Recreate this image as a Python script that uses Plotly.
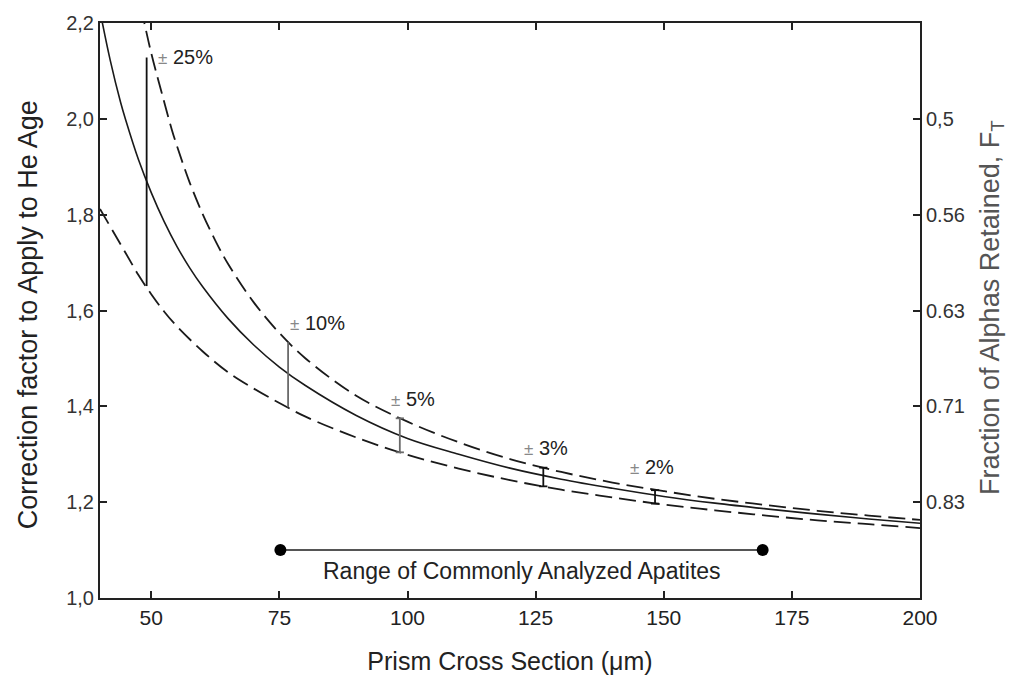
import plotly.graph_objects as go

# Prism cross section (µm) and the correction factor 1/FT, with its upper and lower bounds
x_mid = [40, 42, 44, 45, 47.5, 50, 52.5, 55, 57.5, 60, 65, 70, 75, 80, 90, 100,
         110, 120, 130, 140, 150, 160, 170, 180, 190, 200]
y_mid = [2.225, 2.122, 2.035, 1.998, 1.915, 1.846, 1.786, 1.734, 1.689, 1.650, 1.583,
         1.528, 1.482, 1.444, 1.381, 1.333, 1.300, 1.271, 1.248, 1.229, 1.212, 1.198,
         1.186, 1.175, 1.165, 1.156]

x_up = [48, 50, 52, 54, 55, 57.5, 60, 62.5, 65, 70, 75, 80, 90, 100, 110, 120, 130,
        140, 150, 160, 170, 180, 190, 200]
y_up = [2.233, 2.137, 2.056, 1.978, 1.944, 1.867, 1.802, 1.746, 1.697, 1.617, 1.553,
        1.501, 1.422, 1.368, 1.325, 1.290, 1.263, 1.241, 1.223, 1.207, 1.194, 1.182,
        1.172, 1.163]

x_lo = [40, 45, 47.5, 50, 52.5, 55, 60, 65, 70, 75, 80, 90, 100, 110, 120, 130,
        140, 150, 160, 170, 180, 190, 200]
y_lo = [1.812, 1.720, 1.674, 1.634, 1.598, 1.567, 1.515, 1.471, 1.437, 1.407, 1.379,
        1.335, 1.299, 1.270, 1.246, 1.226, 1.210, 1.195, 1.183, 1.172, 1.162, 1.154, 1.146]

# Uncertainty bars: position, bottom, top, label, label anchor
bar_x = [49.1, 76.7, 98.5, 126.5, 148.3]
bar_lo = [1.651, 1.398, 1.304, 1.233, 1.197]
bar_hi = [2.128, 1.534, 1.375, 1.272, 1.225]
bar_color = ["#111111", "#6a6a6a", "#6a6a6a", "#111111", "#111111"]
bar_caps = [False, False, True, True, True]
bar_labels = ["25%", "10%", "5%", "3%", "2%"]
label_x = [51.0, 76.6, 96.3, 122.3, 143.0]
label_y = [2.13, 1.573, 1.416, 1.314, 1.273]

# Range of commonly analysed apatites
range_x = [75.2, 169.3]
range_y = 1.1

# Tick labels
x_ticks = [50, 75, 100, 125, 150, 175, 200]
left_vals = [1.0, 1.2, 1.4, 1.6, 1.8, 2.0, 2.2]
left_text = ["1,0", "1,2", "1,4", "1,6", "1,8", "2,0", "2,2"]
right_vals = [2.0, 1.8, 1.6, 1.4, 1.2]
right_text = ["0,5", "0.56", "0.63", "0.71", "0.83"]

FONT = "Liberation Sans, Arial, Helvetica, sans-serif"
DASH = "17px,7px"
INK = "#1a1a1a"

fig = go.Figure()

fig.add_trace(go.Scatter(x=x_up, y=y_up, mode="lines",
                         line=dict(color=INK, width=1.8, dash=DASH, shape="spline"), hoverinfo="skip"))
fig.add_trace(go.Scatter(x=x_lo, y=y_lo, mode="lines",
                         line=dict(color=INK, width=1.8, dash=DASH, shape="spline"), hoverinfo="skip"))
fig.add_trace(go.Scatter(x=x_mid, y=y_mid, mode="lines",
                         line=dict(color=INK, width=1.6, shape="spline"), hoverinfo="skip"))

for bx, lo, hi, col, cap in zip(bar_x, bar_lo, bar_hi, bar_color, bar_caps):
    fig.add_trace(go.Scatter(x=[bx, bx], y=[lo, hi], mode="lines",
                             line=dict(color=col, width=1.8), hoverinfo="skip"))
    if cap:
        for yy in (lo, hi):
            fig.add_trace(go.Scatter(x=[bx - 0.8, bx + 0.8], y=[yy, yy], mode="lines",
                                     line=dict(color=col, width=1.8), hoverinfo="skip"))

for lx, ly, txt in zip(label_x, label_y, bar_labels):
    fig.add_annotation(x=lx, y=ly, xanchor="left", yanchor="middle", showarrow=False,
                       text='<span style="font-size:17px;color:#888">±</span> ' + txt,
                       font=dict(family=FONT, size=20, color="#222"))

fig.add_trace(go.Scatter(x=range_x, y=[range_y, range_y], mode="lines+markers",
                         line=dict(color="#555", width=2),
                         marker=dict(color="#000", size=12), hoverinfo="skip"))
fig.add_annotation(x=sum(range_x) / 2, y=1.057, showarrow=False,
                   text="Range of Commonly Analyzed Apatites",
                   font=dict(family=FONT, size=23, color="#222"))

# Axis titles on the two sides of the frame
fig.add_annotation(xref="paper", yref="paper", x=-0.088, y=0.493, textangle=-90,
                   showarrow=False, xanchor="center", yanchor="middle",
                   text="Correction factor to Apply to He Age",
                   font=dict(family=FONT, size=27, color="#222"))
fig.add_annotation(xref="paper", yref="paper", x=1.087, y=0.505, textangle=-90,
                   showarrow=False, xanchor="center", yanchor="middle",
                   text="Fraction of Alphas Retained, F<sub>T</sub>",
                   font=dict(family=FONT, size=27, color="#555"))

# invisible trace that carries the right-hand axis
fig.add_trace(go.Scatter(x=[100], y=[1.5], yaxis="y2", mode="markers",
                         marker=dict(opacity=0), hoverinfo="skip"))

fig.update_layout(
    width=1020, height=684,
    margin=dict(l=100, r=100, t=18, b=86),
    paper_bgcolor="white", plot_bgcolor="white",
    showlegend=False,
    xaxis=dict(range=[40, 200], tickvals=x_ticks, ticks="inside", ticklen=7, tickwidth=1.5,
               tickcolor="#222", showline=True, linecolor="#222", linewidth=2, mirror="ticks",
               showgrid=False, zeroline=False,
               tickfont=dict(family=FONT, size=21, color="#222"),
               title=dict(text="Prism Cross Section (μm)", standoff=24,
                          font=dict(family=FONT, size=25, color="#222"))),
    yaxis=dict(range=[1.0, 2.2], tickvals=left_vals, ticktext=left_text, ticks="inside",
               ticklen=7, tickwidth=1.5, tickcolor="#222", showline=True, linecolor="#222",
               linewidth=2, showgrid=False, zeroline=False,
               tickfont=dict(family=FONT, size=20, color="#333")),
    yaxis2=dict(range=[1.0, 2.2], overlaying="y", side="right", tickvals=right_vals,
                ticktext=right_text, ticks="inside", ticklen=7, tickwidth=1.5,
                tickcolor="#222", showline=True, linecolor="#222", linewidth=2,
                showgrid=False, zeroline=False,
                tickfont=dict(family=FONT, size=20, color="#333")),
)

fig.write_html("out.html")
